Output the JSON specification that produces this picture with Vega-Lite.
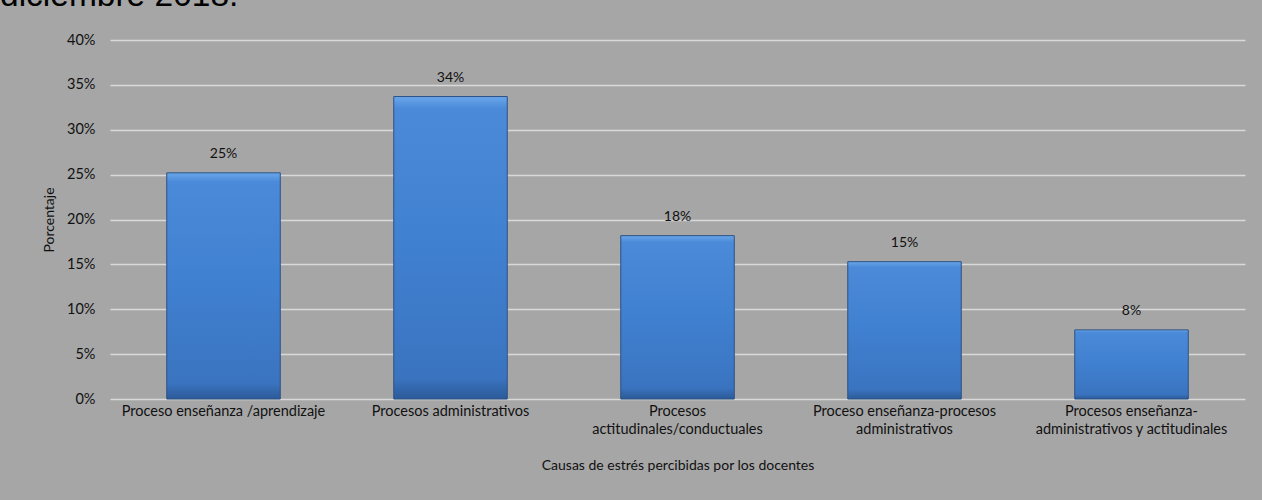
{
  "$schema": "https://vega.github.io/schema/vega-lite/v6.json",
  "autosize": "none",
  "width": 1135,
  "height": 359,
  "padding": {"left": 110, "top": 40, "right": 17, "bottom": 101},
  "background": "#a6a6a6",
  "title": {
    "text": "diciembre  2018.",
    "anchor": "start",
    "frame": "group",
    "font": "Liberation Sans",
    "fontSize": 33.5,
    "fontWeight": "normal",
    "color": "#000000",
    "baseline": "alphabetic",
    "dx": -110,
    "offset": -7
  },
  "data": {
    "values": [
      {"causa": "Proceso enseñanza /aprendizaje", "pct": 0.252},
      {"causa": "Procesos administrativos", "pct": 0.337},
      {"causa": "Procesos actitudinales/conductuales", "pct": 0.182},
      {"causa": "Proceso enseñanza-procesos administrativos", "pct": 0.153},
      {"causa": "Procesos enseñanza-administrativos y actitudinales", "pct": 0.077}
    ]
  },
  "encoding": {
    "x": {
      "field": "causa",
      "type": "nominal",
      "sort": null,
      "scale": {"paddingInner": 0.5, "paddingOuter": 0.25},
      "axis": {
        "title": "Causas de estrés percibidas por los docentes",
        "labelAngle": 0,
        "labelExpr": "datum.label == 'Procesos actitudinales/conductuales' ? ['Procesos', 'actitudinales/conductuales'] : datum.label == 'Proceso enseñanza-procesos administrativos' ? ['Proceso enseñanza-procesos', 'administrativos'] : datum.label == 'Procesos enseñanza-administrativos y actitudinales' ? ['Procesos enseñanza-', 'administrativos y actitudinales'] : datum.label",
        "labelLimit": 300,
        "labelLineHeight": 18,
        "labelPadding": 5,
        "ticks": false,
        "domain": false,
        "titlePadding": 23
      }
    },
    "y": {
      "field": "pct",
      "type": "quantitative",
      "scale": {"domain": [0, 0.4], "nice": false},
      "axis": {
        "title": "Porcentaje",
        "format": ".0%",
        "values": [0, 0.05, 0.1, 0.15, 0.2, 0.25, 0.3, 0.35, 0.4],
        "grid": true,
        "gridColor": "#d9d9d9",
        "gridWidth": 1.5,
        "ticks": false,
        "domain": false,
        "labelPadding": 15,
        "titlePadding": 10
      }
    }
  },
  "layer": [
    {
      "mark": {
        "type": "bar",
        "stroke": "#2d5283",
        "strokeWidth": 1,
        "color": {
          "gradient": "linear",
          "x1": 0, "y1": 0, "x2": 0, "y2": 1,
          "stops": [
            {"offset": 0, "color": "#6aa6ea"},
            {"offset": 0.04, "color": "#4a8ad8"},
            {"offset": 0.5, "color": "#4080d0"},
            {"offset": 0.93, "color": "#3a74c0"},
            {"offset": 1, "color": "#2c5a98"}
          ]
        }
      }
    },
    {
      "mark": {"type": "text", "baseline": "bottom", "dy": -12, "font": "Lato", "fontSize": 14, "color": "#111111"},
      "encoding": {
        "text": {"field": "pct", "type": "quantitative", "format": ".0%"}
      }
    }
  ],
  "config": {
    "view": {"stroke": null},
    "axis": {
      "labelFont": "Lato",
      "labelFontSize": 14.5,
      "labelColor": "#111111",
      "titleFont": "Lato",
      "titleFontSize": 14,
      "titleFontWeight": "normal",
      "titleColor": "#111111"
    }
  }
}
